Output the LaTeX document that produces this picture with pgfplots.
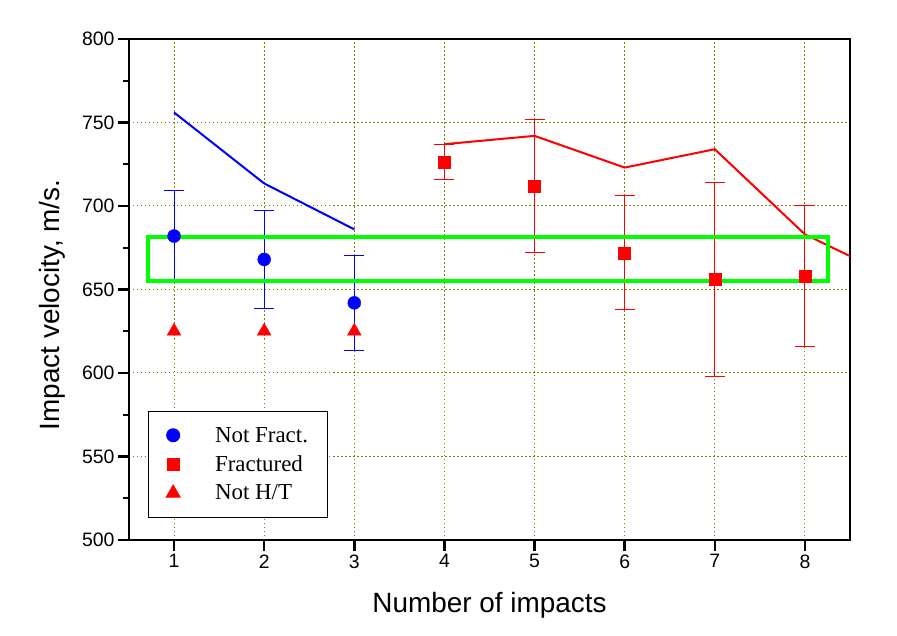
\documentclass[border=0pt]{standalone}
\usepackage{pgfplots}
\pgfplotsset{compat=1.18}
\usepackage{fontspec}
\setmainfont{Liberation Sans}
\newfontfamily\legfont{Liberation Serif}
\definecolor{gridol}{RGB}{128,128,0}
\begin{document}
\begin{tikzpicture}
\path[use as bounding box] (-129bp,-96bp) rectangle (768bp,540bp);
\begin{axis}[
  at={(0,0)}, anchor=south west,
  scale only axis, width=721bp, height=501bp,
  xmin=0.5, xmax=8.5, ymin=500, ymax=800,
  xtick={1,...,8}, ytick={500,550,...,800},
  minor y tick num=1,
  tick pos=left, tick align=outside,
  major tick length=11bp, minor tick length=6bp,
  every tick/.style={black, line width=2.5bp},
  minor tick style={line width=2bp},
  axis line style={line width=2.5bp},
  grid=major,
  major grid style={gridol, line width=1bp, dash pattern=on 1.5bp off 2.5bp},
  /pgf/number format/assume math mode=true,
  ticklabel style={font=\fontsize{19.5}{22}\selectfont},
  xlabel={Number of impacts},
  ylabel={Impact velocity, m/s.},
  label style={font=\fontsize{28}{32}\selectfont},
  xlabel style={at={(axis description cs:0.5,-0.13)}, anchor=center},
  ylabel style={at={(axis description cs:-0.107,0.469)}, anchor=center},
  legend style={at={(rel axis cs:0.026,0.044)}, anchor=south west,
    draw=black, line width=1bp, inner xsep=18bp, inner ysep=14bp,
    font=\legfont\fontsize{23}{27}\selectfont, row sep=8bp, column sep=33bp},
  legend cell align=left,
]
\addplot[only marks, mark=*, mark size=6.5bp, blue,
  error bars/.cd, y dir=both, y explicit,
  error bar style={line width=1bp},
  error mark options={line width=1bp, mark size=10bp, rotate=90}]
  table[x=x, y=y, y error=e] {
x y e
1 682 27.5
2 668 29.5
3 642 28.5
};
\addlegendentry{Not Fract.}
\addplot[only marks, mark=square*, mark size=6bp, red,
  error bars/.cd, y dir=both, y explicit,
  error bar style={line width=1bp},
  error mark options={line width=1bp, mark size=10bp, rotate=90}]
  table[x=x, y=y, y error=e] {
x y e
4 726.5 10.5
5 712 40
6 672 34
7 656 58
8 658 42
};
\addlegendentry{Fractured}
\addplot[only marks, mark=triangle*, mark size=8bp, red]
  coordinates {(1,625) (2,625) (3,625)};
\addlegendentry{Not H/T}
\addplot[blue, line width=2bp, forget plot] coordinates {(1,756) (2,713.5) (3,686)};
\addplot[red, line width=2bp, forget plot] coordinates {(4,737) (5,742) (6,723) (7,734) (8,683) (9,657)};
\addplot[color={rgb,255:red,0;green,255;blue,0}, line width=4bp, forget plot]
  coordinates {(0.71,681.4) (8.26,681.4) (8.26,655) (0.71,655)} --cycle;
\end{axis}
\end{tikzpicture}
\end{document}
